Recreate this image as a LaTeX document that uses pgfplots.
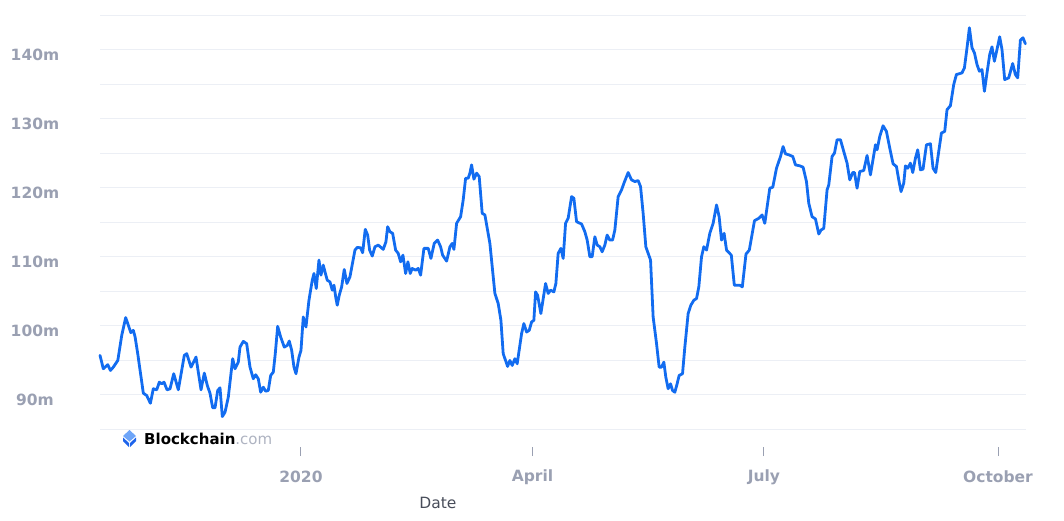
\documentclass[border=0pt]{standalone}
\usepackage{pgfplots}
\pgfplotsset{compat=1.18}
\usepackage{fontspec}
\setmainfont{DejaVu Sans}
\definecolor{lineblue}{RGB}{18,108,240}
\definecolor{gridc}{RGB}{236,239,245}
\definecolor{tickc}{RGB}{154,160,178}
\definecolor{datec}{RGB}{72,77,90}
\definecolor{logolight}{RGB}{110,165,248}
\definecolor{logodark}{RGB}{30,100,235}
\pgfplotstableread{
d v
-79.0 95.67
-77.7 93.73
-75.95 94.32
-74.9 93.49
-73.75 93.97
-72.0 94.94
-70.45 98.58
-68.9 101.15
-67.86 100.03
-66.9 98.97
-65.9 99.30
-65.2 98.33
-64.17 95.92
-61.97 90.19
-60.63 89.85
-59.2 88.73
-58.04 90.83
-56.7 90.68
-55.68 91.79
-54.74 91.55
-53.83 91.79
-52.65 90.68
-51.47 90.83
-50.02 93.01
-48.21 90.68
-45.86 95.67
-44.91 95.92
-43.22 93.97
-41.26 95.42
-39.29 90.68
-38.0 93.10
-36.82 91.31
-35.76 90.19
-34.7 88.07
-33.79 88.07
-32.73 90.58
-31.83 90.97
-30.92 86.80
-29.86 87.43
-28.57 89.61
-26.84 95.19
-25.93 93.73
-24.64 94.69
-23.97 96.87
-22.67 97.70
-21.34 97.37
-20.04 93.97
-18.74 92.28
-17.8 92.86
-16.78 92.28
-15.84 90.33
-14.81 91.06
-13.87 90.48
-12.85 90.58
-11.91 92.76
-10.88 93.24
-10.1 95.92
-9.16 99.88
-7.98 98.33
-6.56 96.87
-5.38 97.12
-4.6 97.75
-3.65 96.39
-2.75 93.97
-1.96 93.01
-0.79 95.42
0 96.39
0.9 101.24
1.96 99.78
3.14 103.66
4.44 106.57
5.11 107.54
6.01 105.36
7.07 109.48
7.86 107.30
8.76 108.75
9.43 107.78
10.33 106.57
11.39 106.32
12.3 105.12
12.97 105.84
13.75 103.91
14.26 102.94
15.05 104.39
15.99 105.60
17.01 108.12
18.07 106.09
19.25 107.05
21.22 110.93
22.12 111.32
23.46 111.26
24.24 110.54
25.27 113.94
26.21 113.11
26.99 110.93
28.02 110.06
29.08 111.41
30.37 111.66
32.34 111.03
33.4 112.14
34.07 114.32
34.97 113.59
36.03 113.36
37.21 110.93
38.23 110.45
39.17 109.23
40.08 110.20
41.14 107.54
42.04 109.23
42.95 107.54
43.73 108.27
45.07 108.02
46.09 108.27
47.03 107.30
48.33 111.18
50.02 111.18
51.08 109.72
52.38 111.90
53.71 112.38
54.89 111.41
55.68 110.20
57.25 109.33
58.55 111.41
59.45 111.90
60.12 111.03
61.18 114.81
62.75 115.77
63.77 118.20
64.72 121.35
65.74 121.35
66.41 122.08
67.07 123.28
67.98 121.21
69.04 122.08
70.06 121.58
71.24 116.26
72.3 116.02
74.26 111.90
76.23 104.64
77.53 103.18
78.59 100.76
79.49 95.92
81.22 94.07
82.12 94.94
83.03 94.21
84.09 95.19
84.99 94.46
86.72 98.82
87.62 100.28
88.69 99.05
89.71 99.30
90.65 100.51
91.55 100.76
92.22 104.87
93.01 104.39
94.3 101.73
96.15 106.09
97.17 104.64
98.12 105.12
99.41 104.87
100.2 106.09
101.1 110.45
102.16 111.18
103.07 109.72
104.01 114.81
105.03 115.54
106.37 118.68
107.27 118.44
108.33 115.04
110.3 114.71
111.59 113.59
112.5 112.38
113.56 109.96
114.46 109.96
115.52 112.86
116.43 111.66
117.49 111.41
118.39 110.68
119.45 111.66
120.35 113.11
121.41 112.38
122.48 112.38
123.38 113.84
124.68 118.68
126.01 119.65
127.04 120.71
128.61 122.17
129.94 121.10
131.24 120.86
132.54 121.00
133.48 120.13
134.5 116.26
135.56 111.41
137.41 109.48
138.43 101.24
139.77 97.37
140.79 93.97
141.73 93.97
142.64 94.69
143.42 92.51
144.33 90.83
145.27 91.55
146.06 90.58
146.96 90.33
147.86 91.55
148.65 92.76
149.98 93.01
150.89 96.87
152.19 101.73
153.25 102.94
154.43 103.66
155.49 103.91
156.39 105.60
157.45 109.96
158.36 111.41
159.42 110.93
160.71 113.36
162.01 114.81
163.35 117.47
164.37 115.77
165.31 112.38
166.33 113.36
167.28 110.93
169.16 110.20
170.34 105.84
172.5 105.84
173.48 105.60
174.93 110.35
176.23 110.93
178.27 115.19
179.96 115.54
181.26 116.02
182.32 114.81
184.28 119.90
185.46 120.04
186.92 122.80
188.49 124.49
189.51 125.94
190.45 124.88
191.75 124.74
193.32 124.49
194.38 123.28
196.07 123.14
197.37 122.95
198.7 120.86
199.61 117.72
200.9 115.77
202.24 115.44
203.54 113.26
204.44 113.84
205.5 114.08
206.8 119.65
207.47 120.38
208.76 124.49
209.71 124.99
210.73 126.92
212.07 126.92
213.36 125.22
214.66 123.53
215.72 121.10
216.9 122.17
217.57 122.17
218.59 119.90
219.65 122.31
221.22 122.46
222.52 124.64
223.85 121.83
225.82 126.19
226.45 125.46
227.51 127.40
228.81 128.95
230.14 128.13
231.44 125.71
232.74 123.43
234.07 123.04
234.98 121.10
235.88 119.40
236.94 120.62
237.61 123.14
238.51 122.80
239.57 123.53
240.48 122.17
241.54 124.26
242.44 125.46
243.5 122.56
244.52 122.66
245.86 126.19
247.43 126.34
248.45 122.80
249.51 122.17
250.69 125.22
251.75 127.89
253.05 128.13
253.95 131.28
255.29 131.86
256.58 134.91
257.64 136.37
259.84 136.61
260.79 137.34
261.81 140.25
262.75 143.15
263.77 140.25
264.72 139.52
265.74 137.82
266.68 136.85
267.7 137.09
268.65 133.94
269.67 136.61
270.73 139.27
271.63 140.39
272.57 138.30
273.59 140.00
274.65 141.85
275.56 140.00
276.62 135.64
278.19 135.89
279.76 137.97
280.82 136.37
281.73 135.89
282.79 141.35
283.81 141.70
284.75 140.83
}\hashdata
\begin{document}
\fontsize{15}{18}\selectfont
\begin{tikzpicture}
\useasboundingbox (0pt,0pt) rectangle (1064pt,520pt);
\begin{axis}[
  at={(100pt,91pt)}, anchor=south west,
  scale only axis, width=926pt, height=414pt,
  xmin=-79, xmax=285, ymin=85, ymax=145,
  axis line style={draw=none},
  xtick={0,91,182,274},
  xticklabels={2020,April,July,October},
  xtick pos=lower, ytick pos=left,
  ytick={90,100,110,120,130,140},
  yticklabels={90m,100m,110m,120m,130m,140m},
  minor ytick={85,95,105,115,125,135,145},
  ymajorgrids, yminorgrids,
  major grid style={draw=gridc, line width=1pt},
  minor grid style={draw=gridc, line width=1pt},
  major tick length=9pt, minor tick length=0pt, tick align=outside,
  ytick style={draw=none},
  xtick style={draw=tickc, line width=1pt, yshift=-18pt},
  xticklabel style={font=\fontsize{15.5}{18}\selectfont\bfseries, text=tickc, anchor=center, yshift=-39pt},
  yticklabel style={font=\fontsize{15.5}{18}\selectfont\bfseries, text=tickc, anchor=center, xshift=-56pt, yshift=-5pt},
  xlabel={Date},
  xlabel style={at={(axis description cs:0.365,0)}, anchor=center, yshift=-74pt, text=datec, font=\fontsize{15.5}{18}\selectfont},
  clip=false,
]
\addplot[lineblue, line width=2.8pt, line join=round, line cap=round] table[x=d, y=v] {\hashdata};
\end{axis}
% Blockchain.com watermark
\fill[logolight] (123pt,84pt) -- (129.5pt,90pt) -- (136pt,84pt) -- (129.5pt,78.5pt) -- cycle;
\fill[logodark] (123pt,82.5pt) -- (129pt,77pt) -- (129pt,73pt) -- (123pt,79pt) -- cycle;
\fill[logodark] (136pt,82.5pt) -- (130pt,77pt) -- (130pt,73pt) -- (136pt,79pt) -- cycle;
\node[anchor=west, inner sep=0pt] at (144pt,81pt) {\fontsize{15}{18}\selectfont\bfseries Blockchain\textcolor{tickc!80!white}{\mdseries .com}};
\end{tikzpicture}
\end{document}
